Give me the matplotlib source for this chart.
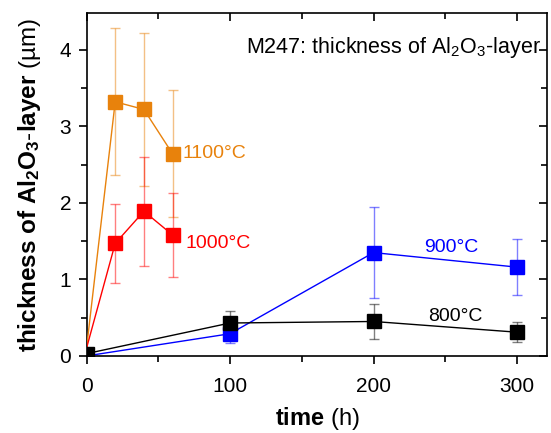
import numpy as np
import matplotlib.pyplot as plt

plt.rcParams['font.family'] = ['Liberation Sans', 'DejaVu Sans']
plt.rcParams['mathtext.fontset'] = 'custom'
plt.rcParams['mathtext.rm'] = 'Liberation Sans'
plt.rcParams['mathtext.bf'] = 'Liberation Sans:bold'
plt.rcParams['mathtext.it'] = 'Liberation Sans:italic'

# oxide thickness (um) vs exposure time (h) for each temperature
t_800 = [0, 100, 200, 300]
d_800 = [0.03, 0.43, 0.45, 0.31]
e_800 = [0.0, 0.16, 0.23, 0.13]

t_900 = [0, 100, 200, 300]
d_900 = [0.0, 0.29, 1.35, 1.16]
e_900 = [0.0, 0.12, 0.59, 0.37]

t_1000 = [0, 20, 40, 60]
d_1000 = [0.1, 1.47, 1.89, 1.58]
e_1000 = [0.0, 0.52, 0.71, 0.55]

t_1100 = [0, 20, 40, 60]
d_1100 = [0.1, 3.32, 3.22, 2.64]
e_1100 = [0.0, 0.96, 1.0, 0.83]

orange = '#E8820C'
series = [
    (t_1100, d_1100, e_1100, orange, '1100°C', (67, 2.64)),
    (t_1000, d_1000, e_1000, '#FF0000', '1000°C', (69, 1.47)),
    (t_900, d_900, e_900, '#0000FF', '900°C', (235, 1.42)),
    (t_800, d_800, e_800, '#000000', '800°C', (238, 0.52)),
]

fig = plt.figure(figsize=(5.51, 4.33), dpi=100)
ax = fig.add_axes([0.157, 0.178, 0.836, 0.792])

for t, d, e, c, lab, pos in series:
    t = np.array(t)
    d = np.array(d)
    e = np.array(e)
    ax.errorbar(t[1:], d[1:], yerr=e[1:], fmt='none', ecolor=c, alpha=0.5,
                elinewidth=1, capsize=3.5, capthick=1, zorder=2)
    ax.plot(t, d, '-', color=c, lw=1, zorder=3)
    # only the 800 °C series has a measured point at t = 0
    first = 0 if c == '#000000' else 1
    ax.plot(t[first:], d[first:], 's', color=c, ms=9.5, zorder=4)
    ax.text(pos[0], pos[1], lab, color=c, fontsize=14, va='center', ha='left')

ax.text(0.987, 0.935, 'M247: thickness of Al$_2$O$_3$-layer', transform=ax.transAxes,
        ha='right', va='top', fontsize=15.5)

ax.set_xlim(0, 321)
ax.set_ylim(0, 4.48)
ax.set_xticks([0, 100, 200, 300])
ax.set_xticks([50, 150, 250], minor=True)
ax.set_yticks([0, 1, 2, 3, 4])
ax.set_yticks([0.5, 1.5, 2.5, 3.5], minor=True)
ax.tick_params(axis='both', which='both', labelsize=15, width=1.2)
ax.tick_params(which='major', length=6)
ax.tick_params(which='minor', length=4)
ax.tick_params(top=True, right=True, which='both', labeltop=False, labelright=False)
ax.tick_params(axis='x', which='both', direction='out', pad=9)
ax.tick_params(axis='y', which='both', direction='out', pad=5)
# top and right ticks point inwards
for tk in ax.xaxis.get_major_ticks() + ax.xaxis.get_minor_ticks():
    tk.tick2line.set_marker(3)
for tk in ax.yaxis.get_major_ticks() + ax.yaxis.get_minor_ticks():
    tk.tick2line.set_marker(0)
for sp in ax.spines.values():
    sp.set_linewidth(1.2)

ax.set_xlabel(r'$\mathbf{time}$ (h)', fontsize=17, labelpad=7)
ax.set_ylabel(r'$\mathbf{thickness\ of\ Al_2O_3\text{-}layer}$ (µm)', fontsize=17.5, labelpad=12)

fig.savefig('out.png', dpi=100)
